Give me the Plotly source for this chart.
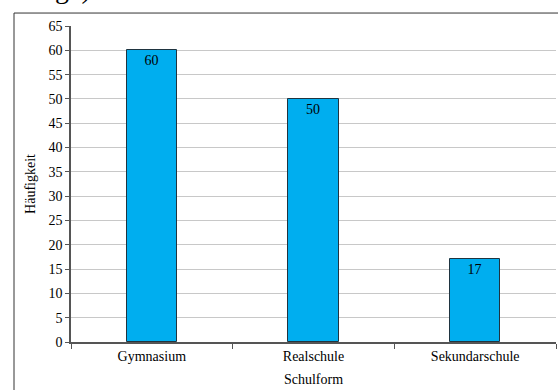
import plotly.graph_objects as go

# Schulform frequencies
categories = ["Gymnasium", "Realschule", "Sekundarschule"]
counts = [60, 50, 17]
y_ticks = list(range(0, 66, 5))

SERIF = "Liberation Serif, Times New Roman, serif"

fig = go.Figure(
    go.Bar(
        x=categories,
        y=counts,
        width=0.31,
        marker=dict(color="#00AEEF", line=dict(color="#1F3440", width=1)),
        text=[str(v) for v in counts],
        textposition="inside",
        insidetextanchor="end",
        textangle=0,
        textfont=dict(family=SERIF, size=14, color="black"),
        constraintext="none",
        hoverinfo="x+y",
    )
)

fig.update_layout(
    width=558,
    height=390,
    margin=dict(l=71, r=2, t=26, b=48),
    paper_bgcolor="white",
    plot_bgcolor="white",
    showlegend=False,
    font=dict(family=SERIF, size=14, color="black"),
    bargap=0,
)

fig.update_xaxes(
    type="category",
    tickson="boundaries",
    ticks="outside",
    ticklen=5,
    tickcolor="#555555",
    showline=True,
    linecolor="#555555",
    linewidth=1.5,
    showgrid=False,
    tickfont=dict(family=SERIF, size=14),
    title=dict(text="Schulform", font=dict(family=SERIF, size=14), standoff=12),
)

fig.update_yaxes(
    range=[0, 65],
    tickvals=y_ticks,
    ticks="outside",
    ticklen=4,
    tickcolor="#555555",
    showline=True,
    linecolor="#555555",
    linewidth=1.5,
    showgrid=True,
    gridcolor="#C8C8C8",
    gridwidth=1,
    zeroline=False,
    tickfont=dict(family=SERIF, size=14),
    title=dict(text="Häufigkeit", font=dict(family=SERIF, size=14), standoff=10),
)

# surrounding frame of the figure
fig.add_shape(
    type="rect",
    xref="paper", yref="paper",
    x0=-0.1175, x1=1.06, y0=-0.2, y1=1.041,
    line=dict(color="#333333", width=1),
    fillcolor="rgba(0,0,0,0)",
    layer="below",
)

# tail of the caption line above the frame
fig.add_annotation(
    xref="paper", yref="paper",
    x=-0.0371, y=1.064,
    xanchor="left", yanchor="bottom",
    text="ge)",
    showarrow=False,
    font=dict(family=SERIF, size=28, color="black"),
)

fig.write_html("out.html")
